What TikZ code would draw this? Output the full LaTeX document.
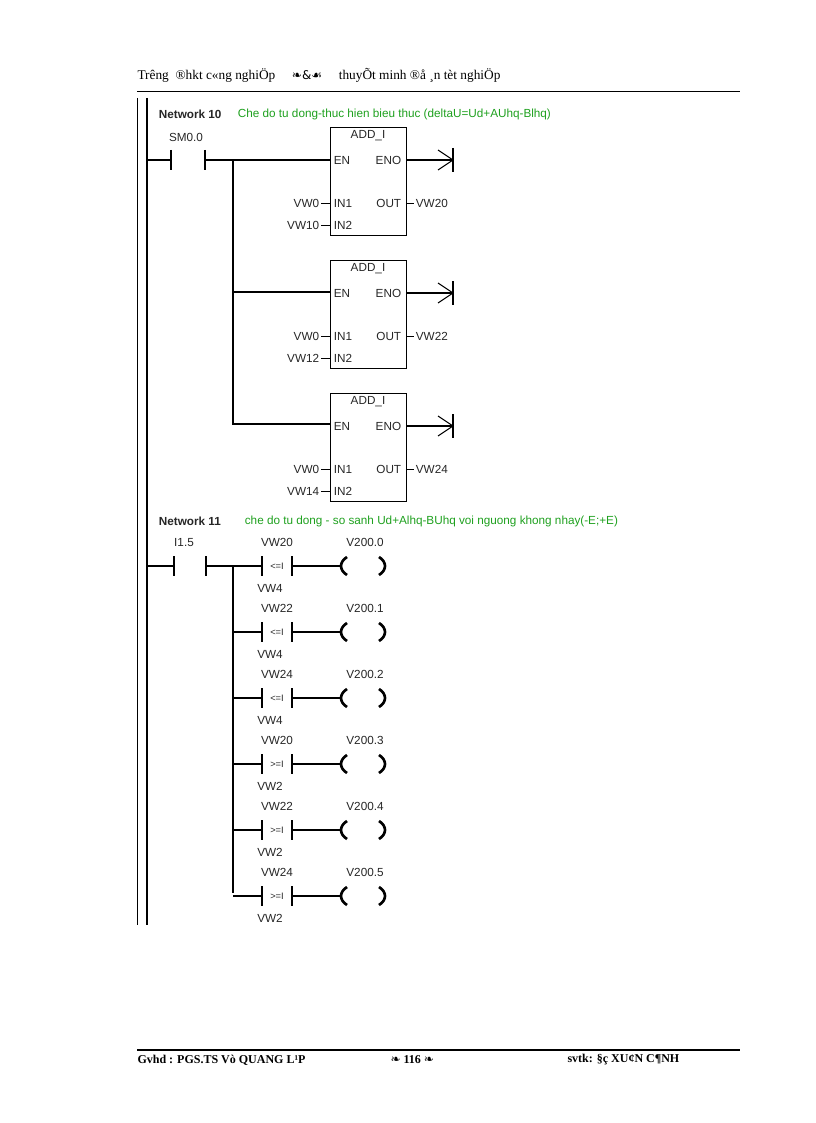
\documentclass[tikz,border=0pt]{standalone}
\usepackage{fontspec}
\setmainfont{Liberation Serif}
\newfontfamily\plcfont{Liberation Sans}
\newfontfamily\dingfont{DejaVu Sans}
\usetikzlibrary{calc}
\definecolor{netgreen}{RGB}{30,160,30}
\begin{document}
\begin{tikzpicture}[x=0.75pt,y=-0.75pt,thick]
        %
        % `plc' is the ladder text, `block' the ADD_I boxes.
        \tikzstyle{plc} = [font=\plcfont\fontsize{8.8}{9}\selectfont,inner sep=1pt,text=black!85]
        \tikzstyle{block} = [draw,minimum width=57pt,minimum height=81pt,inner sep=0pt]
        \tikzstyle{head} = [font=\fontsize{10}{11}\selectfont,inner sep=0pt,anchor=west]
        \tikzstyle{foot} = [head,font=\bfseries\fontsize{9}{10}\selectfont]
        \useasboundingbox (0,0) rectangle (816,1123);
        %
        % Header
        \node[head] (top) at (137,75) {Trêng \ ®hkt c«ng nghiÖp \quad {\dingfont\small ❧\&☙} \quad thuyÕt minh ®å ¸n tèt nghiÖp};
        \draw[thin] (137,91) -- (740,91);
        %
        % Rails
        \draw[very thick] (147,98) -- (147,925);
        \draw[semithick] (137,98) -- (137,925);
        %
        % Network 10
        \node[plc,anchor=west,font=\plcfont\bfseries\fontsize{8.8}{9}\selectfont] (net10) at (157,114) {Network 10};
        \node[plc,anchor=west,text=netgreen] (com10) at (236,114) {Che do tu dong-thuc hien bieu thuc (deltaU=Ud+AUhq-Blhq)};
        \node[plc] (sm) at (186,137) {SM0.0};
        \draw (147,160) -- (171,160) (171,150) -- (171,170) (205,150) -- (205,170);
        \draw (205,160) -- (330,160);
        \draw (233,160) -- (233,425);
        \foreach \t/\i/\o [count=\k from 0] in {127/10/20,260/12/22,393/14/24} {
          \node[block,anchor=north west] (add\k) at (330,\t) {};
          \node[plc] (ttl\k) at (368,\t+9) {ADD\_I};
          \node[plc,anchor=west] (en\k) at (332,\t+33) {EN};
          \node[plc,anchor=east] (eno\k) at (403,\t+33) {ENO};
          \node[plc,anchor=west] (in1\k) at (332,\t+76) {IN1};
          \node[plc,anchor=west] (in2\k) at (332,\t+98) {IN2};
          \node[plc,anchor=east] (out\k) at (403,\t+76) {OUT};
          \node[plc,anchor=east] (a\k) at (321,\t+76) {VW0};
          \node[plc,anchor=east] (b\k) at (321,\t+98) {VW\i};
          \node[plc,anchor=west] (c\k) at (414,\t+76) {VW\o};
          \draw[semithick] (a\k.east) -- (330,\t+76) (b\k.east) -- (330,\t+98) (406,\t+76) -- (c\k.west);
          \coordinate (tip\k) at (453,\t+33);
          \draw (406,\t+33) -- (tip\k);
          \draw ($(tip\k)+(-15,-10)$) -- (tip\k) -- ($(tip\k)+(-15,10)$);
          \draw ($(tip\k)+(0,-12)$) -- ($(tip\k)+(0,12)$);
        }
        \draw (233,292) -- (330,292) (233,424) -- (330,424);
        %
        % Network 11
        \node[plc,anchor=west,font=\plcfont\bfseries\fontsize{8.8}{9}\selectfont] (net11) at (157,521) {Network 11};
        \node[plc,anchor=west,text=netgreen] (com11) at (243,521) {che do tu dong - so sanh Ud+Alhq-BUhq voi nguong khong nhay(-E;+E)};
        \node[plc] (in15) at (184,543) {I1.5};
        \draw (147,566) -- (174,566) (174,556) -- (174,576) (206,556) -- (206,576);
        \draw (206,566) -- (262,566);
        \draw (233,566) -- (233,893);
        \foreach \w/\op/\r/\n [count=\k from 0] in {20/<=I/4/0,22/<=I/4/1,24/<=I/4/2,20/>=I/2/3,22/>=I/2/4,24/>=I/2/5} {
          \pgfmathsetmacro{\y}{566+66*\k}
          \node[plc] (cmp\k) at (277,\y) {\scriptsize\op};
          \node[plc] (up\k) at (277,\y-24) {VW\w};
          \node[plc] (dn\k) at (270,\y+22) {VW\r};
          \node[plc] (coil\k) at (365,\y-24) {V200.\n};
          \draw (233,\y) -- (262,\y) (262,\y-10) -- (262,\y+10) (292,\y-10) -- (292,\y+10);
          \draw (292,\y) -- (340,\y);
          \draw[line width=2pt] (347,\y-9) .. controls (339,\y-4) and (339,\y+4) .. (347,\y+9);
          \draw[line width=2pt] (379,\y-9) .. controls (387,\y-4) and (387,\y+4) .. (379,\y+9);
        }
        %
        % Footer
        \draw[very thick] (137,1050) -- (740,1050);
        \node[foot] (gv) at (137,1060) {Gvhd : PGS.TS Vò QUANG L¹P};
        \node[foot] (pg) at (390,1060) {{\dingfont\small ❧} 116 {\dingfont\small ❧}};
        \node[foot] (sv) at (567,1060) {svtk: §ç XU¢N C¶NH};
        %
\end{tikzpicture}
\end{document}
